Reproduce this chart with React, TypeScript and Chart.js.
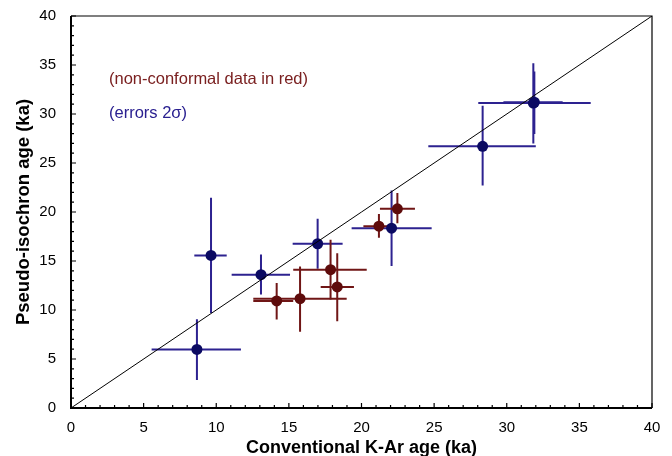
import React, { useEffect, useRef } from "react";
import { Chart, registerables } from "chart.js";

Chart.register(...registerables);

// Conformal data (blue)
const blueX = [8.67, 9.64, 13.08, 16.98, 22.07, 28.34, 31.83, 31.9];
const blueY = [5.98, 15.57, 13.6, 16.76, 18.35, 26.7, 31.11, 31.2];
const blueXLo = [5.55, 8.49, 11.06, 15.26, 19.32, 24.6, 28.04, 29.77];
const blueXHi = [11.7, 10.72, 15.08, 18.7, 24.83, 32.0, 35.78, 33.85];
const blueYLo = [2.85, 9.7, 11.57, 14.2, 14.48, 22.7, 27.0, 27.95];
const blueYHi = [9.06, 21.45, 15.67, 19.3, 22.19, 30.84, 35.18, 34.33];

// Non-conformal data (red)
const redX = [14.16, 15.77, 17.87, 18.33, 21.2, 22.47];
const redY = [10.92, 11.16, 14.11, 12.35, 18.55, 20.33];
const redXLo = [12.55, 12.55, 15.3, 17.19, 20.13, 21.27];
const redXHi = [15.3, 18.98, 20.36, 19.48, 22.0, 23.68];
const redYLo = [9.03, 7.77, 11.06, 8.86, 17.37, 18.86];
const redYHi = [12.75, 14.45, 17.17, 15.8, 19.8, 21.95];

const lineX = [0, 40];
const lineY = [0, 40];

const axisMin = 0;
const axisMax = 40;
const majorStep = 5;

const BLUE_DOT = "#0b0a62";
const BLUE_BAR = "#2d2290";
const RED_DOT = "#5e0b0b";
const RED_BAR = "#701616";

const FONT = "'Liberation Sans', Arial, Helvetica, sans-serif";

const errorBarPlugin = {
  id: "errorBars",
  beforeDatasetsDraw(chart: any) {
    const ctx = chart.ctx;
    const xs = chart.scales.x;
    const ys = chart.scales.y;
    const groups = [
      { x: blueX, y: blueY, xl: blueXLo, xh: blueXHi, yl: blueYLo, yh: blueYHi, c: BLUE_BAR },
      { x: redX, y: redY, xl: redXLo, xh: redXHi, yl: redYLo, yh: redYHi, c: RED_BAR },
    ];
    ctx.save();
    ctx.lineWidth = 2;
    for (const g of groups) {
      ctx.strokeStyle = g.c;
      for (let i = 0; i < g.x.length; i++) {
        const px = xs.getPixelForValue(g.x[i]);
        const py = ys.getPixelForValue(g.y[i]);
        ctx.beginPath();
        ctx.moveTo(xs.getPixelForValue(g.xl[i]), py);
        ctx.lineTo(xs.getPixelForValue(g.xh[i]), py);
        ctx.moveTo(px, ys.getPixelForValue(g.yl[i]));
        ctx.lineTo(px, ys.getPixelForValue(g.yh[i]));
        ctx.stroke();
      }
    }
    ctx.restore();
  },
};

const framePlugin = {
  id: "frame",
  afterDraw(chart: any) {
    const ctx = chart.ctx;
    const a = chart.chartArea;
    const xs = chart.scales.x;
    const ys = chart.scales.y;
    ctx.save();
    ctx.strokeStyle = "#000";
    ctx.lineWidth = 1.2;
    ctx.beginPath();
    ctx.moveTo(a.left, a.top);
    ctx.lineTo(a.right, a.top);
    ctx.lineTo(a.right, a.bottom);
    ctx.stroke();
    ctx.lineWidth = 2;
    ctx.beginPath();
    ctx.moveTo(a.left, a.top);
    ctx.lineTo(a.left, a.bottom);
    ctx.lineTo(a.right, a.bottom);
    ctx.stroke();
    ctx.lineWidth = 1.2;
    ctx.beginPath();
    for (let v = axisMin; v <= axisMax; v++) {
      const major = v % majorStep === 0;
      const len = major ? 5 : 3;
      const px = xs.getPixelForValue(v);
      ctx.moveTo(px, a.bottom);
      ctx.lineTo(px, a.bottom - len);
      const py = ys.getPixelForValue(v);
      ctx.moveTo(a.left, py);
      ctx.lineTo(a.left + len, py);
    }
    ctx.stroke();
    ctx.font = `16.5px ${FONT}`;
    ctx.textBaseline = "middle";
    ctx.textAlign = "left";
    ctx.fillStyle = "#7a2020";
    ctx.fillText("(non-conformal data in red)", 109, 79);
    ctx.fillStyle = "#2a2090";
    ctx.fillText("(errors 2σ)", 109, 113);
    ctx.restore();
  },
};

export default function App() {
  const ref = useRef<HTMLCanvasElement | null>(null);
  useEffect(() => {
    if (!ref.current) return;
    const blue = blueX.map((x, i) => ({ x, y: blueY[i] }));
    const red = redX.map((x, i) => ({ x, y: redY[i] }));
    const line = lineX.map((x, i) => ({ x, y: lineY[i] }));
    const chart = new Chart(ref.current, {
      type: "scatter",
      data: {
        datasets: [
          {
            type: "line",
            data: line,
            borderColor: "#000",
            borderWidth: 1,
            pointRadius: 0,
            fill: false,
          } as any,
          {
            data: red,
            backgroundColor: RED_DOT,
            borderColor: RED_DOT,
            pointRadius: 5.5,
            borderWidth: 0,
          },
          {
            data: blue,
            backgroundColor: BLUE_DOT,
            borderColor: BLUE_DOT,
            pointRadius: 5.5,
            borderWidth: 0,
          },
        ],
      },
      options: {
        animation: false,
        responsive: false,
        maintainAspectRatio: false,
        layout: { padding: { top: 15, right: 20, left: 0, bottom: 0 } },
        plugins: {
          legend: { display: false },
          tooltip: { enabled: false },
        },
        scales: {
          x: {
            type: "linear",
            min: axisMin,
            max: axisMax,
            grid: { display: false },
            border: { display: false },
            ticks: {
              stepSize: majorStep,
              color: "#000",
              font: { family: FONT, size: 15 },
              padding: 3,
              maxRotation: 0,
            },
            title: {
              display: true,
              text: "Conventional K-Ar age (ka)",
              color: "#000",
              font: { family: FONT, size: 18, weight: "bold" },
              padding: { top: 4, bottom: -3 },
            },
            afterFit: (s: any) => {
              s.height = 48;
            },
          },
          y: {
            type: "linear",
            min: axisMin,
            max: axisMax,
            grid: { display: false },
            border: { display: false },
            ticks: {
              stepSize: majorStep,
              color: "#000",
              font: { family: FONT, size: 15 },
              padding: 7,
            },
            title: {
              display: true,
              text: "Pseudo-isochron age (ka)",
              color: "#000",
              font: { family: FONT, size: 18.5, weight: "bold" },
              padding: { top: 13, bottom: 4 },
            },
            afterFit: (s: any) => {
              s.width = 71;
            },
          },
        },
      },
      plugins: [errorBarPlugin, framePlugin],
    });
    return () => chart.destroy();
  }, []);
  return (
    <div style={{ position: "absolute", left: 0, top: 0, width: 672, height: 456, background: "#fff" }}>
      <canvas ref={ref} width={672} height={456} style={{ width: 672, height: 456 }} />
    </div>
  );
}
